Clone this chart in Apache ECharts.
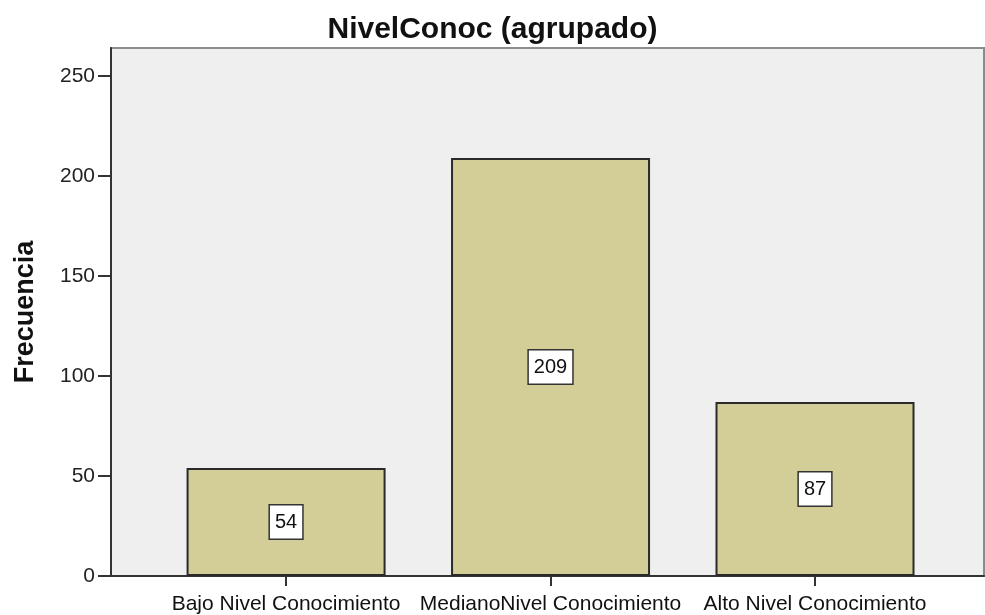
<!DOCTYPE html>
<html>
<head>
<meta charset="utf-8">
<title>NivelConoc (agrupado)</title>
<script src="https://cdn.jsdelivr.net/npm/echarts@6/dist/echarts.min.js"></script>
<style>
  html, body { margin: 0; padding: 0; background: #ffffff; }
  #chart { width: 985px; height: 615px; }
</style>
</head>
<body>
<div id="chart"></div>
<script>
// Frequency of each knowledge level
const categories = ['Bajo Nivel Conocimiento', 'MedianoNivel Conocimiento', 'Alto Nivel Conocimiento'];
const frecuencias = [54, 209, 87];
const yTicks = [0, 50, 100, 150, 200, 250];

const FONT = '"Liberation Sans", Arial, sans-serif';
const positions = categories.map((_, i) => i);

const chart = echarts.init(document.getElementById('chart'), null, { renderer: 'canvas' });

chart.setOption({
  animation: false,
  backgroundColor: '#ffffff',
  title: {
    text: 'NivelConoc (agrupado)',
    left: 'center',
    top: 10,
    textStyle: { fontFamily: FONT, fontSize: 30, fontWeight: 'bold', color: '#111' }
  },
  grid: {
    left: 111, right: 1, top: 48, bottom: 39,
    show: true,
    backgroundColor: '#efefef',
    borderColor: '#8c8c8c',
    borderWidth: 2
  },
  xAxis: {
    type: 'value',
    min: -0.662,
    max: 2.639,
    splitLine: { show: false },
    axisLine: { show: true, onZero: false, lineStyle: { color: '#333', width: 2 } },
    axisTick: { show: true, customValues: positions, length: 10, lineStyle: { color: '#333', width: 2 } },
    axisLabel: {
      customValues: positions,
      formatter: v => categories[Math.round(v)],
      margin: 18,
      fontFamily: FONT, fontSize: 21, color: '#111'
    }
  },
  yAxis: {
    type: 'value',
    min: 0,
    max: 264,
    name: 'Frecuencia',
    nameLocation: 'middle',
    nameGap: 72,
    nameRotate: 90,
    nameTextStyle: { fontFamily: FONT, fontSize: 27, fontWeight: 'bold', color: '#111' },
    splitLine: { show: false },
    axisLine: { show: true, onZero: false, lineStyle: { color: '#333', width: 2 } },
    axisTick: { show: true, customValues: yTicks, length: 13, lineStyle: { color: '#333', width: 2 } },
    axisLabel: {
      customValues: yTicks,
      margin: 16,
      fontFamily: FONT, fontSize: 21, color: '#222'
    }
  },
  series: [{
    type: 'bar',
    data: frecuencias.map((v, i) => [positions[i], v]),
    barWidth: 199,
    itemStyle: { color: '#d3ce98', borderColor: '#2a2a2a', borderWidth: 2 },
    label: {
      show: true,
      position: 'inside',
      formatter: p => String(p.value[1]),
      fontFamily: FONT, fontSize: 20, color: '#111',
      backgroundColor: '#ffffff',
      borderColor: '#333',
      borderWidth: 1.5,
      padding: [7, 5, 6, 5]
    }
  }]
});
</script>
</body>
</html>
